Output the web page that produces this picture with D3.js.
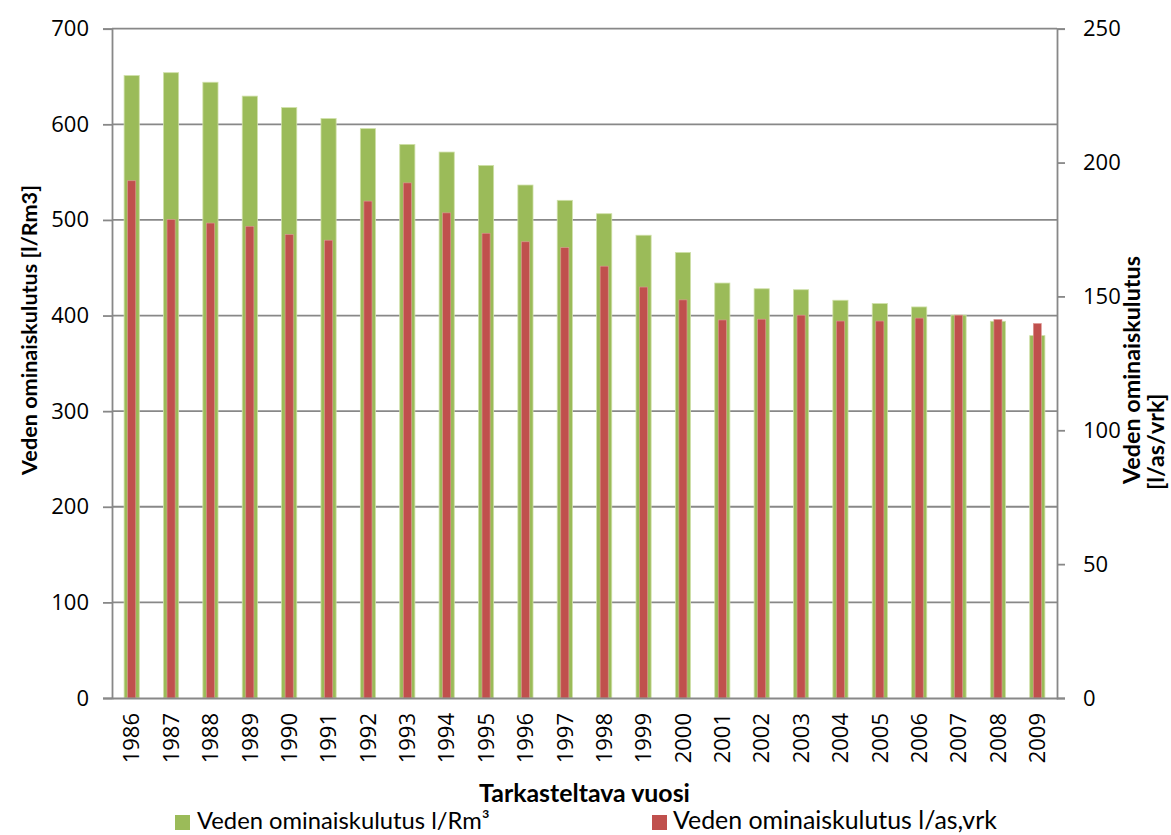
<!DOCTYPE html>
<html><head><meta charset="utf-8">
<script src="https://cdn.jsdelivr.net/npm/d3@7"></script>
<style>html,body{margin:0;padding:0;background:#fff;} svg{display:block;font-family:"Open Sans",sans-serif;}</style>
</head><body>
<svg id="c" width="1171" height="835"></svg>
<script>
const years = ["1986","1987","1988","1989","1990","1991","1992","1993","1994","1995","1996","1997","1998","1999","2000","2001","2002","2003","2004","2005","2006","2007","2008","2009"];
const perRm3 = [651, 654, 644, 629.5, 617.5, 606, 595.5, 579, 571, 557, 536.5, 520.5, 506.5, 484, 466, 434, 428, 427, 416, 412.5, 409, 400.5, 394, 379];
const perAsVrk = [193.2, 178.7, 177.4, 176.2, 173.1, 171, 185.6, 192.4, 181.2, 173.6, 170.4, 168.2, 161.3, 153.5, 148.7, 141.2, 141.5, 143, 140.8, 140.8, 141.9, 143, 141.4, 139.9];
const leftTicks = [0,100,200,300,400,500,600,700];
const rightTicks = [0,50,100,150,200,250];
const seriesNames = ["Veden ominaiskulutus l/Rm³","Veden ominaiskulutus l/as,vrk"];
const leftTitle = "Veden ominaiskulutus [l/Rm3]";
const rightTitle = ["Veden ominaiskulutus","[l/as/vrk]"];
const xTitle = "Tarkasteltava vuosi";

const svg = d3.select("#c");
const L=112, R=1057, T=28.7, B=698;
const GREEN="#9BBB59", RED="#C0504D", GRID="#888888";
const TF = "Lato";

const x = d3.scaleBand().domain(years).range([L,R]).padding(0);
const yL = d3.scaleLinear().domain([0,700]).range([B,T]);
const yR = d3.scaleLinear().domain([0,250]).range([B,T]);

function fit(sel, w){
  const n = sel.node(); const l = n.getComputedTextLength();
  const fs = parseFloat(sel.attr("font-size"));
  sel.attr("font-size", fs*w/l);
}

// gridlines
svg.append("g").selectAll("line").data(leftTicks.filter(d=>d>0)).join("line")
  .attr("x1",L).attr("x2",R).attr("y1",d=>yL(d)).attr("y2",d=>yL(d))
  .attr("stroke",GRID).attr("stroke-width",1.8);

// bars
const bw = x.bandwidth();
svg.append("g").selectAll("rect").data(years).join("rect")
  .attr("x",(d)=>x(d)+bw/2-bw*0.385/2).attr("width",bw*0.385)
  .attr("y",(d,i)=>yL(perRm3[i])).attr("height",(d,i)=>B-yL(perRm3[i]))
  .attr("fill",GREEN).attr("stroke","#cfe0a8").attr("stroke-width",0.8);
svg.append("g").selectAll("rect").data(years).join("rect")
  .attr("x",(d)=>x(d)+bw/2-bw*0.205/2).attr("width",bw*0.205)
  .attr("y",(d,i)=>yR(perAsVrk[i])).attr("height",(d,i)=>B-yR(perAsVrk[i]))
  .attr("fill",RED).attr("stroke","#e09a98").attr("stroke-width",0.6);

// left axis
const gl = svg.append("g").attr("transform",`translate(${L},0)`)
  .call(d3.axisLeft(yL).tickValues(leftTicks).tickSize(9).tickPadding(14).tickFormat(d3.format("d")));
gl.select(".domain").attr("stroke",GRID).attr("stroke-width",1.8);
gl.selectAll(".tick line").attr("stroke",GRID).attr("stroke-width",1.8);
gl.selectAll(".tick text").attr("font-size",22).attr("font-family","Open Sans").attr("fill","#000");

// right axis
const gr = svg.append("g").attr("transform",`translate(${R},0)`)
  .call(d3.axisRight(yR).tickValues(rightTicks).tickSize(8).tickPadding(18).tickFormat(d3.format("d")));
gr.select(".domain").attr("stroke",GRID).attr("stroke-width",1.8);
gr.selectAll(".tick line").attr("stroke",GRID).attr("stroke-width",1.8);
gr.selectAll(".tick text").attr("font-size",22).attr("font-family","Open Sans").attr("fill","#000");

// bottom axis
const gb = svg.append("g").attr("transform",`translate(0,${B})`)
  .call(d3.axisBottom(x).tickSize(0).tickPadding(0));
gb.select(".domain").attr("stroke",GRID).attr("stroke-width",1.8);
gb.selectAll(".tick text").attr("font-size",22).attr("font-family","Open Sans").attr("fill","#000")
  .attr("text-anchor","end").attr("dy","0.35em").attr("transform","translate(0,15) rotate(-90)").attr("y",0).attr("x",0);

// titles
const xt = svg.append("text").attr("x",584.5).attr("y",802).attr("text-anchor","middle")
  .attr("font-family",TF).attr("font-weight","bold").attr("font-size",20).text(xTitle);
fit(xt,211);
const lt = svg.append("text").attr("transform","translate(37,330) rotate(-90)").attr("text-anchor","middle")
  .attr("font-family",TF).attr("font-weight","bold").attr("font-size",20).text(leftTitle);
fit(lt,290);
const rt1 = svg.append("text").attr("transform","translate(1140,484) rotate(-90)").attr("text-anchor","start")
  .attr("font-family",TF).attr("font-weight","bold").attr("font-size",20).text(rightTitle[0]);
fit(rt1,228);
const rt2 = svg.append("text").attr("transform","translate(1164,490) rotate(-90)").attr("text-anchor","start")
  .attr("font-family",TF).attr("font-weight","bold").attr("font-size",rt1.attr("font-size")).text(rightTitle[1]);

// legend
const leg = [{c:GREEN,x:175,tx:197,w:293},{c:RED,x:652,tx:673,w:324}];
leg.forEach((l,i)=>{
  svg.append("rect").attr("x",l.x).attr("y",815).attr("width",15).attr("height",15).attr("fill",l.c);
  const t = svg.append("text").attr("x",l.tx).attr("y",829).attr("font-family",TF).attr("font-size",24).text(seriesNames[i]);
  fit(t,l.w);
});
</script>
</body></html>
